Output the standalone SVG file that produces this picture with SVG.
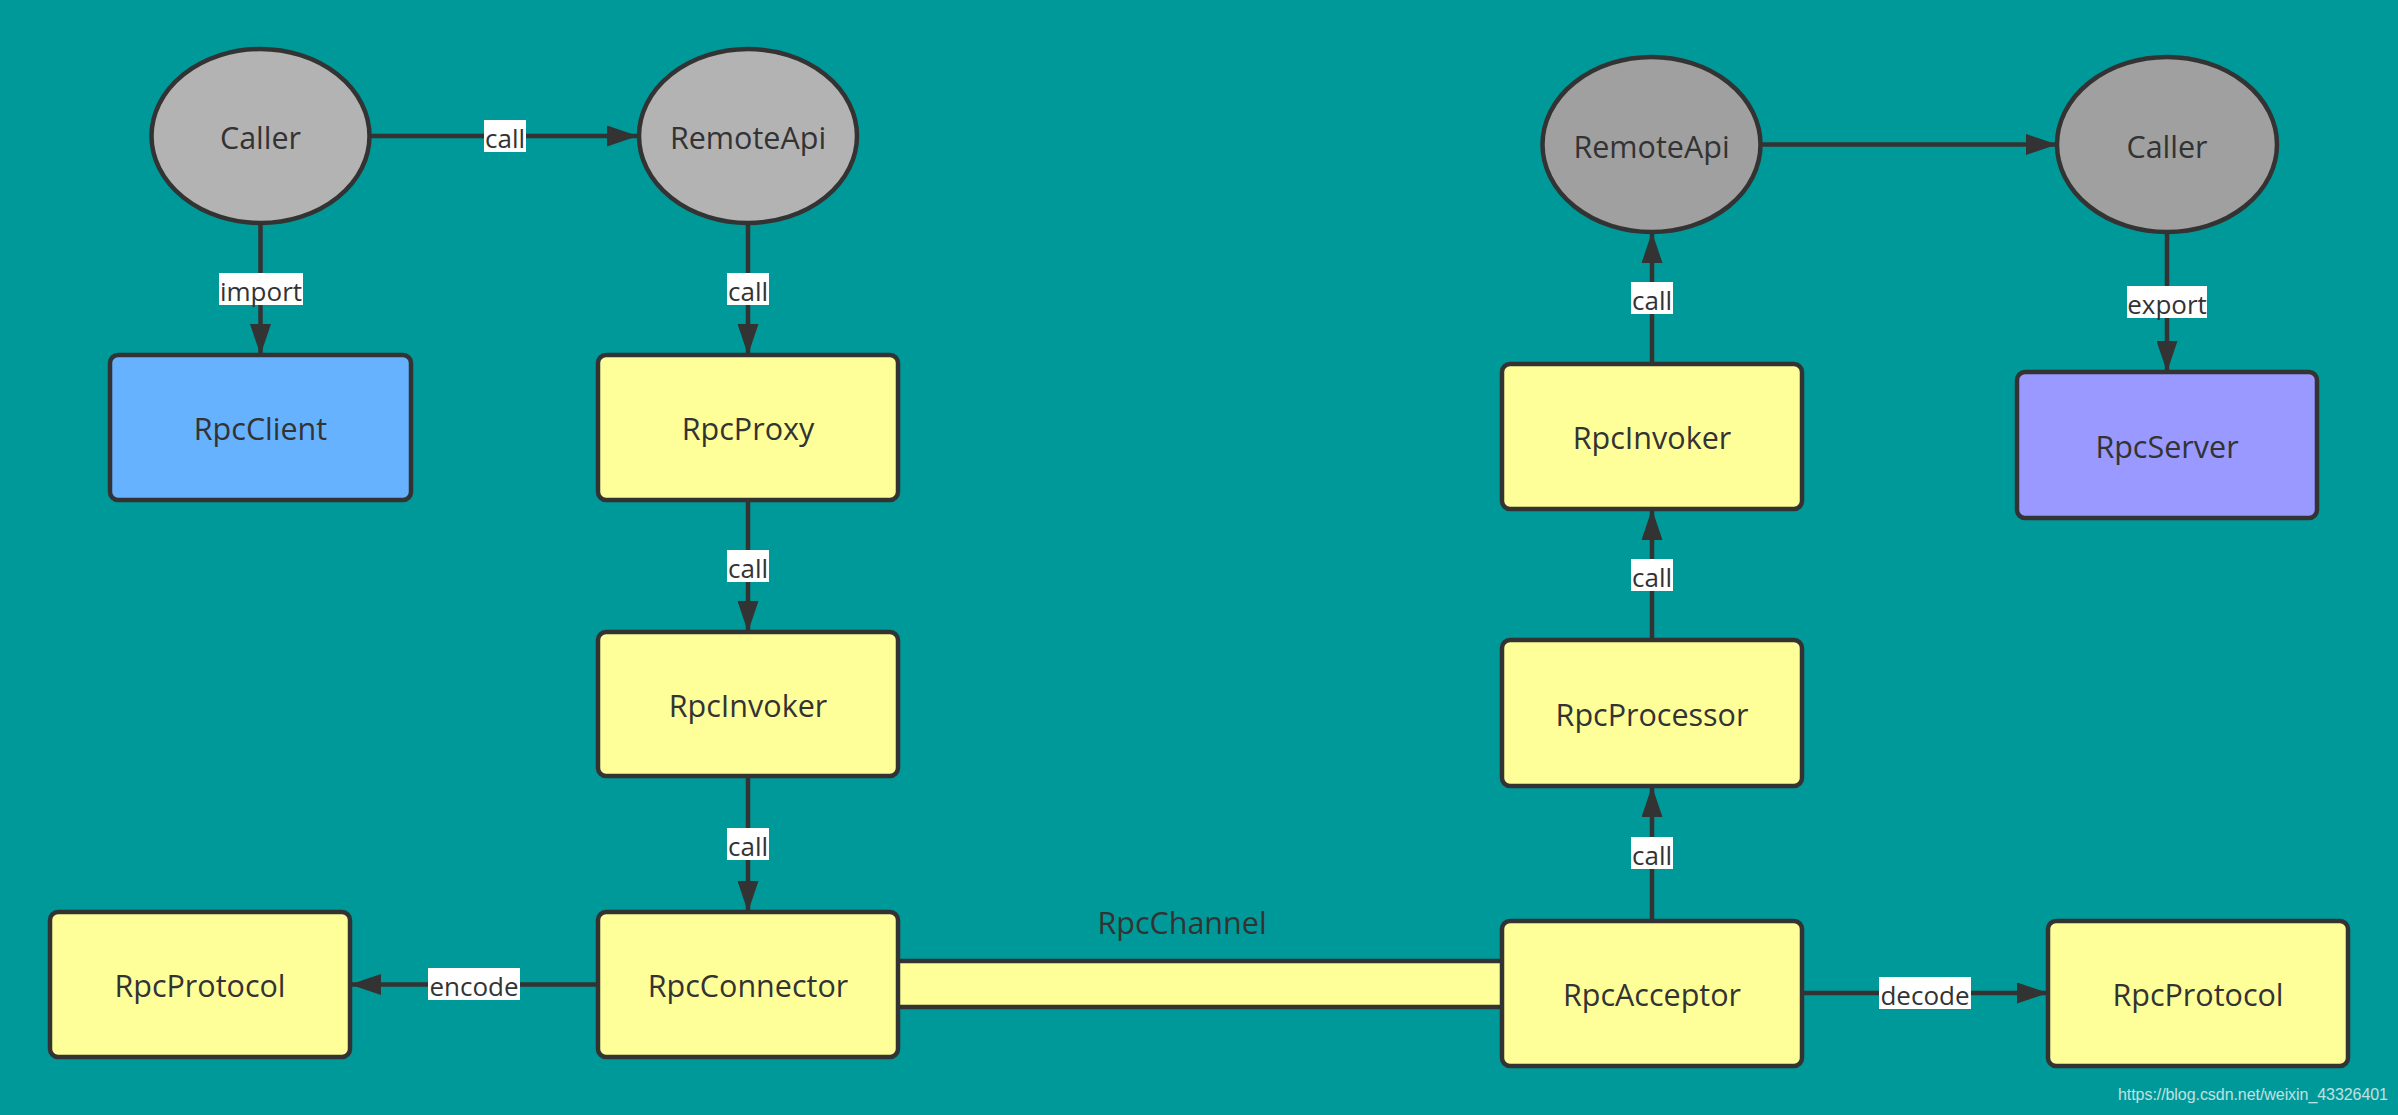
<svg xmlns="http://www.w3.org/2000/svg" width="2398" height="1115" viewBox="0 0 2398 1115">
<defs>
<style>
.bg{fill:#009999}
.box{stroke:#333333;stroke-width:4.5}
.yel{fill:#FFFF99}
.blue{fill:#66B2FF}
.purple{fill:#9999FF}
.g1{fill:#B3B3B3}
.g2{fill:#A0A0A0}
.t{font-family:"Open Sans","Noto Sans",sans-serif;font-size:30.5px;fill:#333333;text-anchor:middle}
.edge{stroke:#333333;stroke-width:4.5;fill:none}
.lbg{fill:#FFFFFF}
.lt{font-family:"Open Sans","Noto Sans",sans-serif;font-size:26px;fill:#333333;text-anchor:middle}
.wm{font-family:"Liberation Sans",Arial,sans-serif;font-size:16px;fill:#E0EEEE;opacity:0.85}
</style>
<marker id="ah" viewBox="0 0 31 21" refX="31" refY="10.5" markerWidth="31" markerHeight="21" markerUnits="userSpaceOnUse" orient="auto">
<path d="M0,0 L31,10.5 L0,21 Z" fill="#333333"/>
</marker>
</defs>
<rect class="bg" x="0" y="0" width="2398" height="1115"/>

<g id="connectors">
<line class="edge" x1="370" y1="136" x2="638" y2="136" marker-end="url(#ah)"/>
<line class="edge" x1="260.5" y1="223" x2="260.5" y2="355" marker-end="url(#ah)"/>
<line class="edge" x1="748" y1="223" x2="748" y2="355" marker-end="url(#ah)"/>
<line class="edge" x1="748" y1="500" x2="748" y2="632" marker-end="url(#ah)"/>
<line class="edge" x1="748" y1="776" x2="748" y2="912" marker-end="url(#ah)"/>
<line class="edge" x1="598" y1="984.5" x2="350" y2="984.5" marker-end="url(#ah)"/>
<line class="edge" x1="1802" y1="993" x2="2048" y2="993" marker-end="url(#ah)"/>
<line class="edge" x1="1652" y1="921" x2="1652" y2="786" marker-end="url(#ah)"/>
<line class="edge" x1="1652" y1="640" x2="1652" y2="509" marker-end="url(#ah)"/>
<line class="edge" x1="1652" y1="364" x2="1652" y2="232" marker-end="url(#ah)"/>
<line class="edge" x1="1761" y1="144.5" x2="2057" y2="144.5" marker-end="url(#ah)"/>
<line class="edge" x1="2167" y1="232" x2="2167" y2="372" marker-end="url(#ah)"/>

<rect class="lbg" x="484" y="120" width="42" height="32"/>
<text class="lt" x="505" y="148">call</text>
<rect class="lbg" x="219" y="273" width="84" height="32"/>
<text class="lt" x="261" y="301">import</text>
<rect class="lbg" x="727" y="273" width="42" height="32"/>
<text class="lt" x="748" y="301">call</text>
<rect class="lbg" x="727" y="550" width="42" height="32"/>
<text class="lt" x="748" y="578">call</text>
<rect class="lbg" x="727" y="828" width="42" height="32"/>
<text class="lt" x="748" y="856">call</text>
<rect class="lbg" x="428" y="968" width="92" height="32"/>
<text class="lt" x="474" y="996">encode</text>
<rect class="lbg" x="1879" y="977" width="92" height="32"/>
<text class="lt" x="1925" y="1005">decode</text>
<rect class="lbg" x="1631" y="837" width="42" height="32"/>
<text class="lt" x="1652" y="865">call</text>
<rect class="lbg" x="1631" y="559" width="42" height="32"/>
<text class="lt" x="1652" y="587">call</text>
<rect class="lbg" x="1631" y="282" width="42" height="32"/>
<text class="lt" x="1652" y="310">call</text>
<rect class="lbg" x="2127" y="286" width="80" height="32"/>
<text class="lt" x="2167" y="314">export</text>
</g>

<g id="RpcChannel">
<rect class="yel" x="896" y="961" width="608" height="46"/>
<line class="edge" x1="896" y1="961" x2="1504" y2="961"/>
<line class="edge" x1="896" y1="1007" x2="1504" y2="1007"/>
<text class="t" x="1182" y="934">RpcChannel</text>
</g>

<g id="CallerLeft">
<ellipse class="box g1" cx="260.5" cy="136" rx="109" ry="87"/>
<text class="t" x="260.5" y="149">Caller</text>
</g>
<g id="RemoteApiLeft">
<ellipse class="box g1" cx="748" cy="136" rx="109" ry="87"/>
<text class="t" x="748" y="149">RemoteApi</text>
</g>
<g id="RpcClient">
<rect class="box blue" x="110" y="355" width="301" height="145" rx="8"/>
<text class="t" x="260.5" y="440">RpcClient</text>
</g>
<g id="RpcProxy">
<rect class="box yel" x="598" y="355" width="300" height="145" rx="8"/>
<text class="t" x="748" y="440">RpcProxy</text>
</g>
<g id="RpcInvokerLeft">
<rect class="box yel" x="598" y="632" width="300" height="144" rx="8"/>
<text class="t" x="748" y="717">RpcInvoker</text>
</g>
<g id="RpcConnector">
<rect class="box yel" x="598" y="912" width="300" height="145" rx="8"/>
<text class="t" x="748" y="997">RpcConnector</text>
</g>
<g id="RpcProtocolLeft">
<rect class="box yel" x="50" y="912" width="300" height="145" rx="8"/>
<text class="t" x="200" y="997">RpcProtocol</text>
</g>

<g id="RemoteApiRight">
<ellipse class="box g2" cx="1651.5" cy="144.5" rx="109" ry="87.5"/>
<text class="t" x="1651.5" y="158">RemoteApi</text>
</g>
<g id="CallerRight">
<ellipse class="box g2" cx="2167" cy="144.5" rx="110" ry="87.5"/>
<text class="t" x="2167" y="158">Caller</text>
</g>
<g id="RpcInvokerRight">
<rect class="box yel" x="1502" y="364" width="300" height="145" rx="8"/>
<text class="t" x="1652" y="449">RpcInvoker</text>
</g>
<g id="RpcServer">
<rect class="box purple" x="2017" y="372" width="300" height="146" rx="8"/>
<text class="t" x="2167" y="458">RpcServer</text>
</g>
<g id="RpcProcessor">
<rect class="box yel" x="1502" y="640" width="300" height="146" rx="8"/>
<text class="t" x="1652" y="726">RpcProcessor</text>
</g>
<g id="RpcAcceptor">
<rect class="box yel" x="1502" y="921" width="300" height="145" rx="8"/>
<text class="t" x="1652" y="1006">RpcAcceptor</text>
</g>
<g id="RpcProtocolRight">
<rect class="box yel" x="2048" y="921" width="300" height="145" rx="8"/>
<text class="t" x="2198" y="1006">RpcProtocol</text>
</g>

<text class="wm" x="2118" y="1100" textLength="270">https://blog.csdn.net/weixin_43326401</text>
</svg>
